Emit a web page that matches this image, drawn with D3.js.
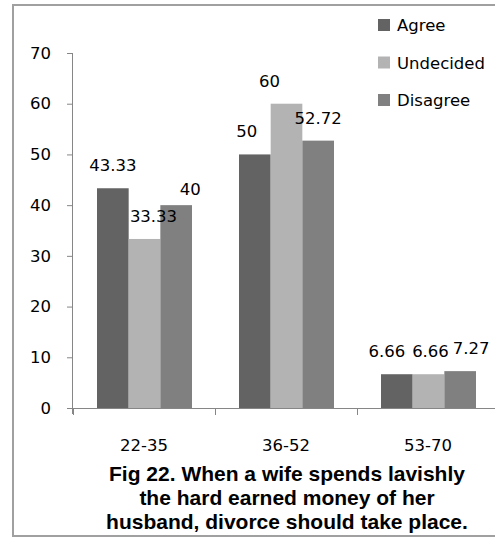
<!DOCTYPE html>
<html>
<head>
<meta charset="utf-8">
<script src="https://cdn.jsdelivr.net/npm/d3@7"></script>
<style>
  html, body { margin: 0; padding: 0; background: #fff; overflow: hidden; }
  svg { display: block; }
</style>
</head>
<body>
<div id="chart"></div>
<script>
// Data
const categories = ["22-35", "36-52", "53-70"];
const seriesNames = ["Agree", "Undecided", "Disagree"];
const agree = [43.33, 50, 6.66];
const undecided = [33.33, 60, 6.66];
const disagree = [40, 52.72, 7.27];
const yTicks = [0, 10, 20, 30, 40, 50, 60, 70];
const titleLines = [
    "Fig 22. When a wife spends lavishly",
    "the hard earned money of her",
    "husband, divorce should take place."
];

// Hand nudges of the data labels, like in the original (series x category)
const labelNudge = [
    [[0, 0], [-8, 0], [-10, 0]],
    [[9, 0], [-17, 0], [2, 0]],
    [[14, 7], [0, 0], [11, 0]]
];

const colors = ["#636363", "#b3b3b3", "#808080"];
const values = [agree, undecided, disagree];

const W = 495, H = 538;
const plot = { left: 73, right: 499, top: 53, bottom: 408 };
const labelFont = "'DejaVu Sans', sans-serif";

const svg = d3.select("#chart").append("svg")
    .attr("width", W)
    .attr("height", H);

// outer frame (runs off the right edge in the source)
svg.append("rect")
    .attr("x", 13).attr("y", 5)
    .attr("width", 500).attr("height", 531)
    .attr("fill", "none")
    .attr("stroke", "#a0a0a0")
    .attr("stroke-width", 2);

const x0 = d3.scaleBand()
    .domain(categories)
    .range([plot.left, plot.right])
    .padding(0);

const x1 = d3.scaleBand()
    .domain(seriesNames)
    .range([24, x0.bandwidth() - 23]);

const y = d3.scaleLinear()
    .domain([0, 70])
    .range([plot.bottom, plot.top]);

// bars
const groups = svg.selectAll(".group")
    .data(categories)
    .join("g")
    .attr("class", "group")
    .attr("transform", d => `translate(${x0(d)},0)`);

groups.selectAll("rect")
    .data((c, ci) => seriesNames.map((s, si) => ({ s, si, ci, v: values[si][ci] })))
    .join("rect")
    .attr("x", d => x1(d.s))
    .attr("width", x1.bandwidth())
    .attr("y", d => y(d.v))
    .attr("height", d => plot.bottom - y(d.v))
    .attr("fill", d => colors[d.si]);

// value labels
groups.selectAll(".val")
    .data((c, ci) => seriesNames.map((s, si) => ({ s, si, ci, v: values[si][ci] })))
    .join("text")
    .attr("class", "val")
    .attr("x", d => x1(d.s) + x1.bandwidth() / 2 + labelNudge[d.si][d.ci][0])
    .attr("y", d => y(d.v) - 17 + labelNudge[d.si][d.ci][1])
    .attr("text-anchor", "middle")
    .attr("font-family", labelFont)
    .attr("font-size", "16.5px")
    .attr("fill", "#000")
    .text(d => d.v);

// y axis
svg.append("g")
    .attr("transform", `translate(${plot.left},0)`)
    .call(d3.axisLeft(y).tickValues(yTicks).tickSize(6).tickPadding(16))
    .call(g => g.select(".domain").attr("stroke", "#868686").attr("d", `M-0.5,${plot.top}V${plot.bottom + 6}`))
    .call(g => g.selectAll(".tick line").attr("stroke", "#868686"))
    .call(g => g.selectAll(".tick text")
        .attr("font-family", labelFont)
        .attr("font-size", "16.5px")
        .attr("fill", "#000"));

// x axis: ticks at category boundaries
const xAxis = svg.append("g")
    .attr("transform", `translate(0,${plot.bottom})`);
xAxis.append("line")
    .attr("x1", plot.left).attr("x2", plot.right)
    .attr("y1", 0.5).attr("y2", 0.5)
    .attr("stroke", "#868686");
xAxis.selectAll(".xtick")
    .data(categories.concat([null]))
    .join("line")
    .attr("class", "xtick")
    .attr("x1", (d, i) => plot.left + i * x0.step() + 0.5)
    .attr("x2", (d, i) => plot.left + i * x0.step() + 0.5)
    .attr("y1", 0).attr("y2", 7)
    .attr("stroke", "#868686");
xAxis.selectAll(".xlab")
    .data(categories)
    .join("text")
    .attr("class", "xlab")
    .attr("x", d => x0(d) + x0.bandwidth() / 2)
    .attr("y", 43)
    .attr("text-anchor", "middle")
    .attr("font-family", labelFont)
    .attr("font-size", "16.5px")
    .attr("fill", "#000")
    .text(d => d);

// legend
const legend = svg.append("g")
    .attr("transform", "translate(378,19)");
const items = legend.selectAll("g")
    .data(seriesNames)
    .join("g")
    .attr("transform", (d, i) => `translate(0,${i * 37.5})`);
items.append("rect")
    .attr("width", 12).attr("height", 12)
    .attr("fill", (d, i) => colors[i]);
items.append("text")
    .attr("x", 19)
    .attr("y", 12)
    .attr("font-family", labelFont)
    .attr("font-size", "16.5px")
    .attr("fill", "#000")
    .text(d => d);

// caption
svg.append("g")
    .selectAll("text")
    .data(titleLines)
    .join("text")
    .attr("x", 287)
    .attr("y", (d, i) => 481 + i * 24)
    .attr("text-anchor", "middle")
    .attr("font-family", "'Liberation Sans', Arial, sans-serif")
    .attr("font-weight", "bold")
    .attr("font-size", "21px")
    .attr("fill", "#000")
    .text(d => d);
</script>
</body>
</html>
